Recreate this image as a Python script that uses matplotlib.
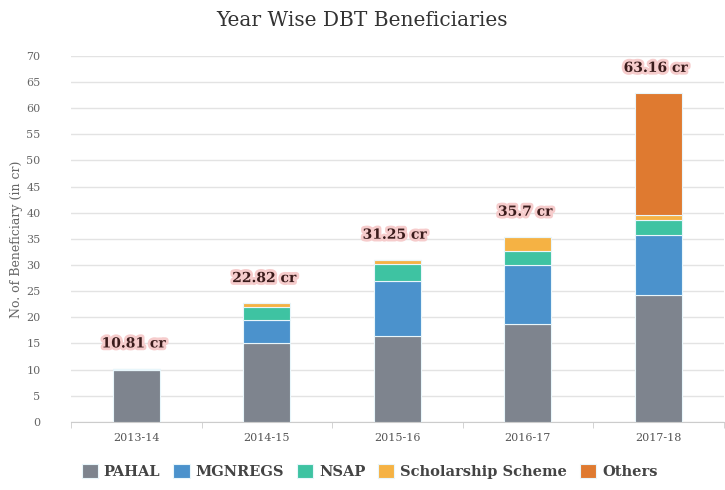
import matplotlib.pyplot as plt
import matplotlib.patheffects as pe
import numpy as np

years = ['2013-14', '2014-15', '2015-16', '2016-17', '2017-18']
pahal = [9.9, 15.0, 16.5, 18.8, 24.3]
mgnregs = [0.0, 4.5, 10.4, 11.2, 11.5]
nsap = [0.3, 2.5, 3.3, 2.6, 2.8]
scholarship = [0.0, 0.7, 0.8, 2.8, 1.0]
others = [0.0, 0.0, 0.0, 0.0, 23.3]
total_labels = ['10.81 cr', '22.82 cr', '31.25 cr', '35.7 cr', '63.16 cr']

series = [
    ('PAHAL', pahal, '#7e848e'),
    ('MGNREGS', mgnregs, '#4b92cc'),
    ('NSAP', nsap, '#3ec3a2'),
    ('Scholarship Scheme', scholarship, '#f5b244'),
    ('Others', others, '#df7a30'),
]

plt.rcParams['font.family'] = 'DejaVu Serif'

fig = plt.figure(figsize=(7.25, 4.9), dpi=100)
ax = fig.add_axes([0.098, 0.139, 0.9, 0.747])

x = np.arange(len(years))
bottom = np.zeros(len(years))
for name, vals, color in series:
    vals = np.array(vals)
    ax.bar(x, vals, width=0.36, bottom=bottom, color=color, label=name,
           edgecolor='#e8f6fb', linewidth=0.8, zorder=3)
    bottom += vals

# total labels above bars
for xi, top, lab in zip(x, bottom, total_labels):
    ax.text(xi - 0.02, top + 4.8, lab, ha='center', va='center', fontsize=10,
            fontweight='bold', color='#3b1c1c', zorder=4,
            path_effects=[pe.withStroke(linewidth=4, foreground='#f6cccc')])

ax.set_ylim(0, 70)
ax.set_yticks(range(0, 71, 5))
ax.set_xlim(-0.5, len(years) - 0.5)
ax.set_xticks(x)
ax.set_xticklabels(years)
ax.set_xticks(np.arange(-0.5, len(years), 1), minor=True)
ax.tick_params(axis='x', which='major', length=0, pad=8, labelsize=8, labelcolor='#555555')
ax.tick_params(axis='x', which='minor', length=4, color='#cccccc')
ax.tick_params(axis='y', length=0, pad=22, labelsize=8, labelcolor='#666666')
ax.grid(axis='y', color='#e3e3e3', linewidth=1, zorder=0)
for s in ['top', 'right', 'left']:
    ax.spines[s].set_visible(False)
ax.spines['bottom'].set_color('#cccccc')

ax.set_ylabel('No. of Beneficiary (in cr)', fontsize=9, color='#666666', labelpad=2)
fig.text(0.5, 0.958, 'Year Wise DBT Beneficiaries', ha='center', va='center',
         fontsize=14.5, color='#333333')

fig.legend(loc='lower center', bbox_to_anchor=(0.51, -0.005), ncol=5, frameon=False,
           prop={'weight': 'bold', 'size': 10.5}, handlelength=1.1, handleheight=1.1,
           columnspacing=0.9, handletextpad=0.4, labelcolor='#444444')

fig.savefig('out.png', dpi=100)
